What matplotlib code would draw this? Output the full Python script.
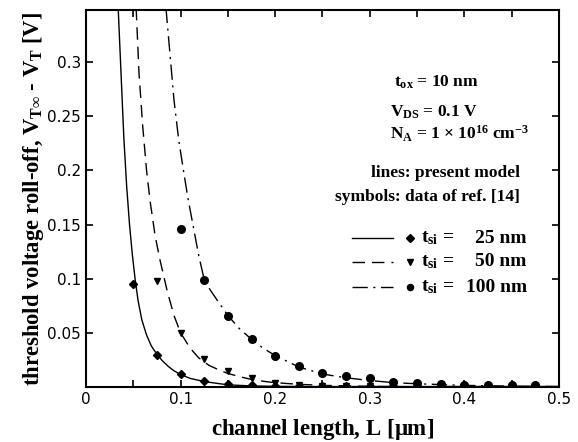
import matplotlib
matplotlib.use("Agg")
import matplotlib.pyplot as plt

# model curves (lines)
L_25 = [0.034, 0.037, 0.040, 0.043, 0.046, 0.049, 0.052, 0.055, 0.059, 0.064, 0.069, 0.075,
        0.081, 0.087, 0.093, 0.100, 0.110, 0.125, 0.150, 0.175, 0.200, 0.250, 0.300, 0.500]
V_25 = [0.350, 0.290, 0.230, 0.185, 0.150, 0.122, 0.099, 0.080, 0.062, 0.048, 0.038, 0.030,
        0.024, 0.019, 0.015, 0.0115, 0.008, 0.005, 0.002, 0.001, 0.0005, 0.0002, 0.0001, 0.0]
L_50 = [0.053, 0.056, 0.060, 0.064, 0.068, 0.073, 0.078, 0.086, 0.093, 0.100, 0.110, 0.119,
        0.130, 0.140, 0.150, 0.165, 0.175, 0.190, 0.200, 0.225, 0.250, 0.300, 0.350, 0.500]
V_50 = [0.350, 0.290, 0.240, 0.200, 0.170, 0.140, 0.118, 0.088, 0.066, 0.050, 0.036, 0.027,
        0.020, 0.016, 0.0125, 0.009, 0.007, 0.005, 0.004, 0.0025, 0.0015, 0.0006, 0.0002, 0.0]
L_100 = [0.0845, 0.088, 0.093, 0.098, 0.103, 0.108, 0.113, 0.119, 0.125, 0.131, 0.138, 0.150,
         0.162, 0.175, 0.187, 0.200, 0.225, 0.250, 0.275, 0.300, 0.325, 0.350, 0.400, 0.450, 0.500]
V_100 = [0.350, 0.315, 0.265, 0.228, 0.200, 0.173, 0.150, 0.122, 0.099, 0.090, 0.081, 0.066,
         0.054, 0.044, 0.036, 0.029, 0.0185, 0.012, 0.0085, 0.006, 0.004, 0.003, 0.0015, 0.0008, 0.0004]

# faint coloured tails lying on the axis
L_blue = [0.17, 0.5]
V_blue = [0.0006, 0.0006]
L_green = [0.38, 0.5]
V_green = [0.0008, 0.0008]

# data of ref. [14] (symbols)
Ld_25 = [0.05, 0.075, 0.1, 0.125, 0.15, 0.175, 0.2, 0.225, 0.25, 0.275, 0.3, 0.325, 0.35,
         0.375, 0.4, 0.425, 0.45, 0.475]
Vd_25 = [0.095, 0.030, 0.012, 0.0054, 0.003, 0.0018, 0.0012, 0.001, 0.0009, 0.0008, 0.0007,
         0.0006, 0.0006, 0.0005, 0.0005, 0.0005, 0.0005, 0.0005]
Ld_50 = [0.075, 0.1, 0.125, 0.15, 0.175, 0.2, 0.225, 0.25, 0.275, 0.3]
Vd_50 = [0.098, 0.050, 0.026, 0.0147, 0.008, 0.004, 0.002, 0.0012, 0.0008, 0.0006]
Ld_100 = [0.1, 0.125, 0.15, 0.175, 0.2, 0.225, 0.25, 0.275, 0.3, 0.325, 0.35, 0.375, 0.4,
          0.425, 0.45, 0.475]
Vd_100 = [0.146, 0.0985, 0.0657, 0.0447, 0.0285, 0.0196, 0.013, 0.010, 0.0079, 0.0049,
          0.004, 0.0024, 0.002, 0.0018, 0.002, 0.002]

x_major = [0, 0.1, 0.2, 0.3, 0.4, 0.5]
x_labels = ["0", "0.1", "0.2", "0.3", "0.4", "0.5"]
x_minor = [0.05, 0.15, 0.25, 0.35, 0.45]
y_major = [0.05, 0.1, 0.15, 0.2, 0.25, 0.3]
y_labels = ["0.05", "0.1", "0.15", "0.2", "0.25", "0.3"]

plt.rcParams["mathtext.fontset"] = "custom"
plt.rcParams["mathtext.rm"] = "Liberation Serif:bold"
plt.rcParams["mathtext.it"] = "Liberation Serif:bold"
plt.rcParams["mathtext.bf"] = "Liberation Serif:bold"

SERIF = dict(family="Liberation Serif", fontweight="bold")
FS = 12.5
FS_LEG = 14

fig = plt.figure(figsize=(5.78, 4.42), dpi=100)
ax = fig.add_axes([0.1488, 0.1244, 0.8183, 0.853])

dash = (0, (9, 5))
dashdot = (0, (11, 4, 1.5, 4))
ax.plot(L_blue, V_blue, color="#3a5fd0", lw=1.0)
ax.plot(L_green, V_green, color="#3a9a3a", lw=1.0)
ax.plot(L_25, V_25, color="black", lw=1.0, ls="-")
ax.plot(L_50, V_50, color="black", lw=1.0, ls=dash)
ax.plot(L_100, V_100, color="black", lw=1.0, ls=dashdot)
ax.plot(Ld_50, Vd_50, ls="none", marker="v", ms=5, color="black")
ax.plot(Ld_100, Vd_100, ls="none", marker="o", ms=5.5, color="black")
ax.plot(Ld_25, Vd_25, ls="none", marker="D", ms=4.5, color="black")

ax.set_xlim(0, 0.5)
ax.set_ylim(0, 0.348)
ax.set_xticks(x_major)
ax.set_xticklabels(x_labels)
ax.set_xticks(x_minor, minor=True)
ax.set_yticks(y_major)
ax.set_yticklabels(y_labels)
ax.tick_params(which="both", direction="in", top=True, right=True, labelsize=11,
               width=1.2, length=5)
for s in ax.spines.values():
    s.set_linewidth(1.5)

ax.set_xlabel(r"channel length, L [$\mathrm{\mu}$m]", fontsize=16.5, labelpad=7, **SERIF)
ax.set_ylabel(r"threshold voltage roll-off, V$_{\mathrm{T}\infty}$ - V$_\mathrm{T}$ [V]",
              fontsize=16.3, labelpad=1, **SERIF)

tf = ax.transAxes
ax.text(0.652, 0.809, r"t$_{\mathrm{ox}}$ = 10 nm", transform=tf, fontsize=FS, va="center", **SERIF)
ax.text(0.643, 0.729, r"V$_{\mathrm{DS}}$ = 0.1 V", transform=tf, fontsize=FS, va="center", **SERIF)
ax.text(0.643, 0.672, r"N$_\mathrm{A}$ = 1 $\times$ 10$^{16}$ cm$^{-3}$", transform=tf,
        fontsize=FS, va="center", **SERIF)
ax.text(0.761, 0.568, "lines: present model", transform=tf, fontsize=FS, ha="center",
        va="center", **SERIF)
ax.text(0.722, 0.504, "symbols: data of ref. [14]", transform=tf, fontsize=FS, ha="center",
        va="center", **SERIF)

# legend rows
rows = [("-", "D", 4.5, "25"), (dash, "v", 5, "50"), (dashdot, "o", 5.5, "100")]
for (ls, mk, ms, val), y in zip(rows, [0.395, 0.332, 0.265]):
    ax.plot([0.562, 0.649], [y, y], transform=tf, color="black", lw=1.0, ls=ls)
    ax.plot([0.685], [y], transform=tf, marker=mk, ms=ms * 0.8, color="black", ls="none")
    ax.text(0.708, y, r"t$_{\mathrm{si}}$ =", transform=tf, fontsize=FS_LEG, va="center", **SERIF)
    ax.text(0.932, y, val + " nm", transform=tf, fontsize=FS_LEG, va="center", ha="right", **SERIF)

fig.savefig("out.png", dpi=100)
